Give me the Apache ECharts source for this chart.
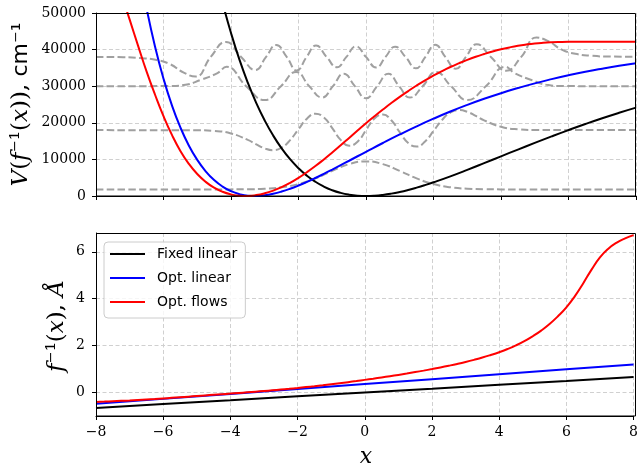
<!DOCTYPE html>
<html><head><meta charset="utf-8">
<script src="https://cdn.jsdelivr.net/npm/echarts@6/dist/echarts.min.js"></script>
<style>html,body{margin:0;padding:0;background:#fff}#c{width:641px;height:468px}</style>
</head><body><div id="c"></div>
<script>
// ---- data ----
// top panel: potential V(f^-1(x)) in cm^-1
const xFixedLinearTop = [-4.5,-4.25,-4,-3.75,-3.5,-3.25,-3,-2.75,-2.5,-2.25,-2,-1.75,-1.5,-1.25,-1,-0.75,-0.5,-0.25,0,0.25,0.5,0.75,1,1.25,1.5,1.75,2,2.5,3,3.5,4,4.5,5,5.5,6,6.5,7,7.5,8];
const vFixedLinear = [62220,52810,44540,37250,30910,25380,20610,16510,13010,10050,7578,5539,3885,2576,1575,846,360,86,0,79,302,649,1106,1656,2286,2982,3738,5375,7137,8969,10830,12690,14510,16290,18010,19660,21240,22730,24140];
const xOptLinearTop = [-7,-6.75,-6.5,-6.25,-6,-5.75,-5.5,-5.25,-5,-4.75,-4.5,-4.25,-4,-3.75,-3.5,-3.25,-3,-2.75,-2.5,-2.25,-2,-1.75,-1.5,-1.25,-1,-0.75,-0.5,-0.25,0,0.5,1,1.5,2,2.5,3,3.5,4,4.5,5,5.5,6,6.5,7,7.5,8];
const vOptLinear = [78070,63550,51190,40790,32050,24750,18730,13820,9870,6754,4352,2567,1313,511,95,6,191,606,1211,1972,2862,3852,4919,6045,7217,8414,9630,10860,12070,14480,16810,19030,21120,23080,24890,26560,28090,29490,30780,31930,32980,33940,34790,35570,36260];
const xOptFlowsTop = [-8,-7.75,-7.5,-7.25,-7,-6.75,-6.5,-6.25,-6,-5.75,-5.5,-5.25,-5,-4.75,-4.5,-4.25,-4,-3.75,-3.5,-3.25,-3,-2.75,-2.5,-2.25,-2,-1.75,-1.5,-1.25,-1,-0.75,-0.5,-0.25,0,0.25,0.5,0.75,1,1.25,1.5,1.75,2,2.25,2.5,2.75,3,3.25,3.5,3.75,4,4.25,4.5,4.75,5,5.25,5.5,5.75,6,6.5,7,7.5,8];
const vOptFlows = [78300,70480,62780,55290,48110,40950,33970,27660,21800,16690,12320,8800,6010,3865,2267,1148,435,66,15,246,738,1466,2408,3572,4944,6500,8176,9977,11880,13850,15860,17880,19880,21770,23610,25390,27080,28670,30190,31600,32900,34120,35240,36250,37190,38040,38800,39490,40090,40600,41040,41390,41670,41860,41990,42070,42120,42150,42150,42150,42150];
// bottom panel: f^-1(x) in Angstrom
const xsBottom = [-8,-7.75,-7.5,-7.25,-7,-6.75,-6.5,-6.25,-6,-5.75,-5.5,-5.25,-5,-4.75,-4.5,-4.25,-4,-3.75,-3.5,-3.25,-3,-2.75,-2.5,-2.25,-2,-1.75,-1.5,-1.25,-1,-0.75,-0.5,-0.25,0,0.25,0.5,0.75,1,1.25,1.5,1.75,2,2.25,2.5,2.75,3,3.25,3.5,3.75,4,4.25,4.5,4.75,5,5.25,5.5,5.75,6,6.25,6.5,6.75,7,7.25,7.5,7.75,8];
const rOptFlows = [-0.40,-0.386,-0.371,-0.355,-0.338,-0.319,-0.298,-0.276,-0.252,-0.227,-0.201,-0.175,-0.149,-0.123,-0.097,-0.071,-0.045,-0.018,0.009,0.037,0.066,0.096,0.127,0.16,0.195,0.232,0.27,0.31,0.352,0.396,0.442,0.49,0.54,0.59,0.642,0.696,0.752,0.81,0.871,0.934,1.0,1.07,1.143,1.22,1.303,1.393,1.49,1.6,1.72,1.855,2.01,2.19,2.4,2.64,2.92,3.25,3.63,4.1,4.65,5.24,5.76,6.13,6.39,6.57,6.71];
const xsLinear = [-8,-6,-4,-2,0,2,4,6,8];
const rFixedLinear = [-0.66,-0.49,-0.33,-0.16,0,0.16,0.33,0.49,0.66];
const rOptLinear = [-0.48,-0.27,-0.06,0.15,0.36,0.57,0.78,0.99,1.2];
// dashed wavefunctions (energy offset + amplitude)
const wave0X = [-8,-4,-3.5,-3,-2.5,-2,-1.5,-1,-0.5,0,0.5,1,1.5,2,2.5,3,3.5,4,8];
const wave0V = [1800,1810,1850,1990,2380,3265,4820,6860,8700,9450,8700,6860,4820,3265,2380,1990,1850,1810,1800];
const wave1X = [-8,-5,-4.5,-4,-3.5,-3.25,-3,-2.75,-2.5,-2.25,-2,-1.75,-1.5,-1.25,-1,-0.75,-0.5,-0.25,0,0.25,0.5,0.75,1,1.25,1.5,1.75,2,2.25,2.5,2.75,3,3.25,3.5,4,4.5,5,8];
const wave1V = [18000,17965,17790,17090,15320,14100,13000,12525,13210,15250,18255,21120,22480,21500,18570,15320,13730,14850,18000,21150,22270,20680,17430,14500,13520,14880,17745,20750,22790,23475,23000,21900,20680,18910,18210,18035,18000];
const wave2X = [-8,-5.8,-5.4,-4.9,-4.4,-4.13,-3.55,-3.0,-2.52,-2.07,-1.68,-1.3,-0.98,-0.66,-0.33,0,0.33,0.66,0.98,1.3,1.68,2.07,2.52,3.0,3.55,4.13,4.4,4.9,5.4,5.8,8];
const wave2V = [30000,30030,30300,31700,33600,35300,30000,26200,30000,33900,30000,26900,30000,33400,30000,26700,30000,33400,30000,26900,30000,33900,30000,26200,30000,35300,33600,31700,30300,30030,30000];
const wave3X = [-8,-7.2,-6.7,-6.2,-5.8,-5.4,-5.05,-4.6,-4.15,-3.7,-3.28,-2.96,-2.66,-2.35,-2.05,-1.76,-1.48,-1.17,-0.86,-0.58,-0.3,0,0.3,0.58,0.86,1.17,1.48,1.76,2.05,2.35,2.66,2.96,3.28,3.7,4.15,4.6,5.05,5.4,5.8,6.2,6.7,7.2,8];
const wave3V = [38000,37920,37700,37150,36000,33700,32650,38000,42100,38000,34420,38000,41250,38000,34300,38000,41100,38000,35200,38000,40900,38000,35100,38000,40800,38000,34900,38000,41300,38000,34750,38000,41450,38000,34200,38000,43300,42300,40000,38850,38300,38100,38050];
const rTicks = [0,2,4,6];
const names = ['Fixed linear','Opt. linear','Opt. flows'];
const colors = ['#000000','#0000ff','#ff0000'];

function pairs(xa, ya){ return xa.map((x,i)=>[x, ya[i]]); }
const minus = v => String(v).replace('-', '\u2212');
const serif = 'DejaVu Serif';
const gridLine = {show:true, lineStyle:{color:'#d0d0d0', width:1, type:[4,2.5]}};
const tick = {show:true, inside:false, length:4, lineStyle:{color:'#000', width:1}};
const axLine = {show:true, onZero:false, lineStyle:{color:'#000', width:1}};
const lbl = {color:'#000', fontFamily:serif, fontSize:14};

const waveStyle = {color:'#a0a0a0', width:2, type:[7.5,3.3]};
function wave(xa, ya){
  return {type:'line', xAxisIndex:0, yAxisIndex:0, data:pairs(xa,ya), symbol:'none', smooth:0.5,
    lineStyle:waveStyle, itemStyle:{color:'#a0a0a0'}, z:2, silent:true};
}
function main(name, color, xa, ya, gi, sm){
  return {type:'line', name:name, xAxisIndex:gi, yAxisIndex:gi, data:pairs(xa,ya), symbol:'none', smooth:sm,
    lineStyle:{color:color, width:2}, itemStyle:{color:color}, z:3, silent:true, clip:true};
}

const option = {
  animation:false,
  backgroundColor:'#ffffff',
  grid:[
    {left:96, top:13, width:540, height:183},
    {left:96, top:233, width:540, height:183}
  ],
  xAxis:[
    {type:'value', gridIndex:0, min:-8, max:8, interval:2, axisLine:axLine, axisTick:tick, axisLabel:{show:false}, splitLine:gridLine},
    {type:'value', gridIndex:1, min:-8, max:8, interval:2, axisLine:axLine, axisTick:tick,
      axisLabel:Object.assign({margin:9, formatter:v=>minus(v)}, lbl), splitLine:gridLine}
  ],
  yAxis:[
    {type:'value', gridIndex:0, min:0, max:50000, interval:10000, axisLine:axLine, axisTick:tick,
      axisLabel:Object.assign({margin:10, formatter:v=>String(v)}, lbl), splitLine:gridLine},
    {type:'value', gridIndex:1, min:-1, max:6.8, splitNumber:4, axisLine:axLine,
      axisTick:Object.assign({customValues:rTicks}, tick),
      axisLabel:Object.assign({margin:11, customValues:rTicks, formatter:v=>minus(v)}, lbl), splitLine:gridLine}
  ],
  legend:{
    data:names, left:104, top:242, orient:'vertical', icon:'rect', itemWidth:35, itemHeight:2, itemGap:8,
    padding:[4,8,8,6], backgroundColor:'rgba(255,255,255,0.8)', borderColor:'#cccccc', borderWidth:1, borderRadius:4,
    textStyle:{fontFamily:'DejaVu Sans', fontSize:14, color:'#000', lineHeight:16, padding:[0,0,0,7]},
    selectedMode:false, z:20
  },
  series:[
    wave(wave0X, wave0V), wave(wave1X, wave1V), wave(wave2X, wave2V), wave(wave3X, wave3V),
    main(names[0], colors[0], xFixedLinearTop, vFixedLinear, 0, 0.5),
    main(names[1], colors[1], xOptLinearTop, vOptLinear, 0, 0.5),
    main(names[2], colors[2], xOptFlowsTop, vOptFlows, 0, 0.5),
    main(names[0], colors[0], xsLinear, rFixedLinear, 1, false),
    main(names[1], colors[1], xsLinear, rOptLinear, 1, false),
    main(names[2], colors[2], xsBottom, rOptFlows, 1, 0.5)
  ],
  graphic:[
    {type:'rect', z:50, silent:true, shape:{x:96.5, y:13.5, width:539, height:182.5}, style:{fill:'none', stroke:'#000', lineWidth:1}},
    {type:'rect', z:50, silent:true, shape:{x:96.5, y:233.5, width:539, height:182.5}, style:{fill:'none', stroke:'#000', lineWidth:1}},
    {type:'text', x:21, y:104.5, rotation:Math.PI/2, silent:true,
      style:{text:'{it|V}{rm|(}{it|f}{rm|\u207B\u00B9(}{it|x}{rm|)), }{sf|cm\u207B\u00B9}',
        align:'center', verticalAlign:'middle', textAlign:'center', textVerticalAlign:'middle',
        rich:{it:{fontFamily:serif, fontStyle:'italic', fontSize:23, fill:'#000', color:'#000'},
              rm:{fontFamily:serif, fontSize:23, fill:'#000', color:'#000'},
              sf:{fontFamily:'DejaVu Sans', fontSize:22, fill:'#000', color:'#000'}}}},
    {type:'text', x:57, y:326, rotation:Math.PI/2, silent:true,
      style:{text:'{it|f}{rm|\u207B\u00B9(}{it|x}{rm|), }{it|\u00C5}',
        align:'center', verticalAlign:'middle', textAlign:'center', textVerticalAlign:'middle',
        rich:{it:{fontFamily:serif, fontStyle:'italic', fontSize:23, fill:'#000', color:'#000'},
              rm:{fontFamily:serif, fontSize:23, fill:'#000', color:'#000'}}}},
    {type:'text', x:366, y:457, silent:true,
      style:{text:'x', font:'italic 22px "DejaVu Serif"', fill:'#000', align:'center', verticalAlign:'middle', textAlign:'center', textVerticalAlign:'middle'}}
  ]
};
const chart = echarts.init(document.getElementById('c'), null, {renderer:'canvas', width:641, height:468});
chart.setOption(option);
</script></body></html>
